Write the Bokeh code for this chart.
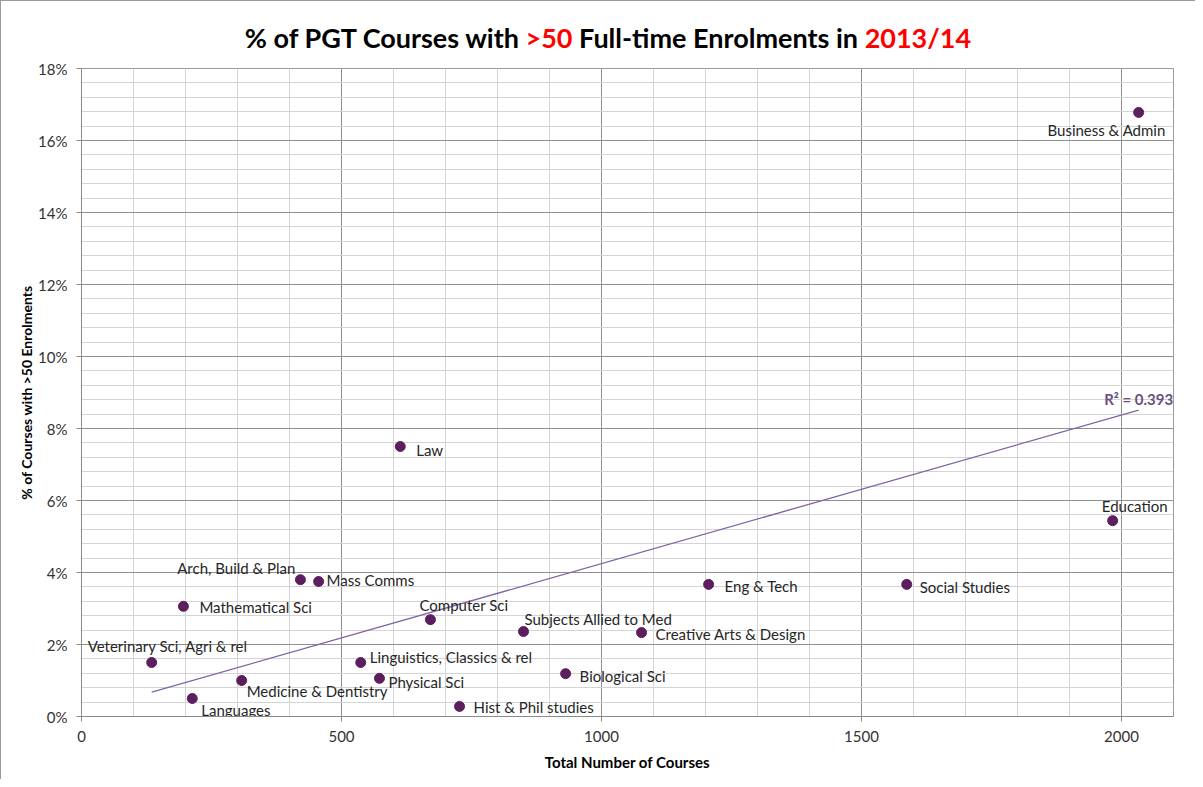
import numpy as np
from bokeh.plotting import figure
from bokeh.layouts import column
from bokeh.models import ColumnDataSource, Label, SingleIntervalTicker, PrintfTickFormatter, Range1d, Div
from bokeh.core.properties import value
from bokeh.embed import file_html
from bokeh.resources import INLINE

# ---------------- data ----------------
subjects = [
    "Business & Admin", "Education", "Social Studies", "Eng & Tech",
    "Creative Arts & Design", "Subjects Allied to Med", "Biological Sci",
    "Hist & Phil studies", "Computer  Sci", "Law", "Physical Sci",
    "Linguistics, Classics & rel", "Mass Comms", "Arch, Build & Plan",
    "Mathematical Sci", "Medicine & Dentistry", "Languages",
    "Veterinary Sci, Agri & rel",
]
total_courses = [2033, 1983, 1587, 1206, 1077, 850, 931, 727, 671, 613,
                 573, 537, 456, 421, 196, 308, 213, 135]
pct_over_50 = [16.78, 5.44, 3.67, 3.67, 2.33, 2.36, 1.19, 0.28, 2.69, 7.50,
               1.06, 1.50, 3.75, 3.80, 3.06, 1.00, 0.50, 1.50]
x_ticks = [0, 500, 1000, 1500, 2000]
y_ticks = [0, 2, 4, 6, 8, 10, 12, 14, 16, 18]
r2_text = "R\u00b2 = 0.393"
title_parts = ["% of PGT Courses with ", "&gt;50", " Full-time Enrolments in ", "2013/14"]
title_colors = ["#000000", "#ff0000", "#000000", "#ff0000"]
x_title = "Total Number of Courses"
y_title = "% of Courses with >50 Enrolments"

# ---------------- layout (label offsets in px: dx, dy(down), align) ----------------
label_layout = {
    "Business & Admin": (-32, 18, "center"),
    "Education": (22, -15, "center"),
    "Social Studies": (13, 3, "left"),
    "Eng & Tech": (16, 2, "left"),
    "Creative Arts & Design": (14, 1, "left"),
    "Subjects Allied to Med": (1, -13, "left"),
    "Biological Sci": (14, 2, "left"),
    "Hist & Phil studies": (14, 1, "left"),
    "Computer  Sci": (-11, -15, "left"),
    "Law": (16, 3, "left"),
    "Physical Sci": (9, 4, "left"),
    "Linguistics, Classics & rel": (9, -6, "left"),
    "Mass Comms": (8, -2, "left"),
    "Arch, Build & Plan": (-5, -12, "right"),
    "Mathematical Sci": (16, 1, "left"),
    "Medicine & Dentistry": (5, 10, "left"),
    "Languages": (9, 11, "left"),
    "Veterinary Sci, Agri & rel": (-64, -17, "left"),
}

FONT = "Lato"
PURPLE = "#5c1f5e"
LINE_PURPLE = "#8064a2"
TXT = "15px"

X_MAX, Y_MAX = 2100, 18
FRAME_L, FRAME_R, FRAME_T, FRAME_B = 81, 1173, 68, 716   # page pixels
W, H = 1194, 778
TITLE_H = 58

src = ColumnDataSource(dict(
    x=total_courses, y=pct_over_50, name=subjects,
    dx=[label_layout[s][0] for s in subjects],
    dy=[label_layout[s][1] for s in subjects],
    align=[label_layout[s][2] for s in subjects],
))

# title as HTML (multi-coloured)
spans = "".join(f'<span style="color:{c}">{t}</span>' for t, c in zip(title_parts, title_colors))
title_div = Div(
    text=(f'<div style="position:relative;width:{W}px;height:{TITLE_H}px;">'
          f'<div style="position:absolute;left:607px;top:21px;transform:translateX(-50%);'
          f'white-space:pre;font-family:{FONT};font-size:27px;font-weight:bold;line-height:32px;">'
          f'{spans}</div></div>'),
    width=W, height=TITLE_H, margin=0)

p = figure(width=W, height=H - TITLE_H, output_backend="svg", toolbar_location=None,
           x_range=Range1d(0, X_MAX), y_range=Range1d(0, Y_MAX),
           min_border_left=FRAME_L - 1, min_border_right=W + 1 - FRAME_R,
           min_border_top=FRAME_T - 1 - TITLE_H, min_border_bottom=H + 1 - FRAME_B)
p.background_fill_color = "white"
p.border_fill_color = "white"
p.outline_line_color = "#9a9a9a"

xt = SingleIntervalTicker(interval=500, num_minor_ticks=5)
yt = SingleIntervalTicker(interval=2, num_minor_ticks=5)
p.xaxis.ticker = xt
p.yaxis.ticker = yt
p.xgrid.ticker = xt
p.ygrid.ticker = yt
p.yaxis.formatter = PrintfTickFormatter(format="%d%%")

for g in (p.xgrid, p.ygrid):
    g.grid_line_color = "#8f8f8f"
    g.grid_line_width = 1
    g.minor_grid_line_color = "#d4d4d4"
    g.minor_grid_line_width = 1

for ax in (p.xaxis, p.yaxis):
    ax.axis_line_color = "#8a8a8a"
    ax.major_tick_line_color = "#8a8a8a"
    ax.minor_tick_line_color = None
    ax.major_tick_in = 0
    ax.major_tick_out = 5
    ax.major_label_text_font = FONT
    ax.major_label_text_font_size = TXT
    ax.major_label_text_color = "#333333"
    ax.axis_label_text_font = FONT
    ax.axis_label_text_font_style = "bold"
    ax.axis_label_text_color = "#000000"

p.xaxis.axis_label = x_title
p.yaxis.axis_label = y_title
p.xaxis.axis_label_text_font_size = TXT
p.yaxis.axis_label_text_font_size = "14px"
p.xaxis.major_label_standoff = 9
p.xaxis.axis_label_standoff = 8
p.yaxis.major_label_standoff = 9
p.yaxis.axis_label_standoff = 0

# trend line from least squares fit
slope, intercept = np.polyfit(total_courses, pct_over_50, 1)
tx = [min(total_courses), max(total_courses)]
ty = [intercept + slope * v for v in tx]
p.line(tx, ty, line_color=LINE_PURPLE, line_width=1.3)

p.scatter("x", "y", source=src, size=10, fill_color=PURPLE, line_color=PURPLE)
p.text("x", "y", text="name", source=src, x_offset="dx", y_offset="dy",
       text_align="align", text_baseline="middle",
       text_font=value(FONT), text_font_size=TXT, text_color="#262626")

p.add_layout(Label(x=tx[1], y=ty[1], text=r2_text, x_offset=0, y_offset=11,
                   text_align="center", text_baseline="middle",
                   text_font=FONT, text_font_size=TXT, text_font_style="bold",
                   text_color="#6b4f82"))

layout = column(title_div, p, spacing=0,
                styles={"border-left": "1px solid #9a9a9a", "border-top": "1px solid #9a9a9a",
                        "background": "white"})

open("out.html", "w").write(file_html(layout, INLINE))
